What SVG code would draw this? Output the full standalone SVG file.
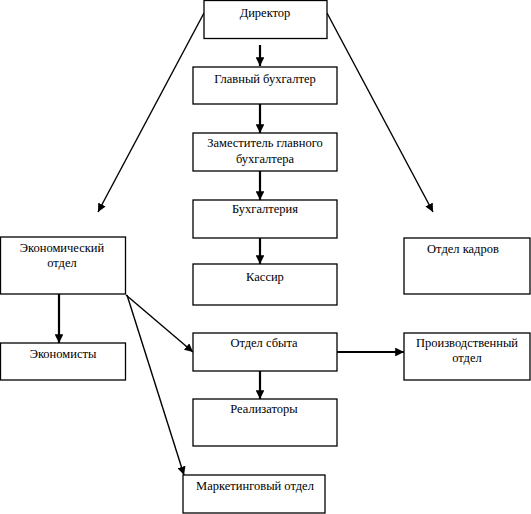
<svg xmlns="http://www.w3.org/2000/svg" width="531" height="514" viewBox="0 0 531 514">
<defs>
<marker id="a" viewBox="0 0 10 10" refX="10" refY="5" markerWidth="4" markerHeight="4" orient="auto" markerUnits="strokeWidth"><path d="M0,0L10,5L0,10z" fill="#000"/></marker>
<marker id="b" viewBox="0 0 10 10" refX="10" refY="5" markerWidth="6" markerHeight="6" orient="auto" markerUnits="strokeWidth"><path d="M0,0L10,5L0,10z" fill="#000"/></marker>
</defs>
<rect width="531" height="514" fill="#fff"/>
<g id="connectors" stroke="#000" fill="none">
<g stroke-width="1.4" marker-end="url(#b)">
<line x1="204" y1="13" x2="98" y2="212"/>
<line x1="327" y1="13" x2="433" y2="212"/>
<line x1="126" y1="295" x2="193" y2="352"/>
<line x1="127" y1="295" x2="184" y2="475"/>
</g>
<g stroke-width="2.2" marker-end="url(#a)">
<line x1="260" y1="45" x2="260" y2="66"/>
<line x1="260" y1="104" x2="260" y2="133"/>
<line x1="260" y1="171" x2="260" y2="200"/>
<line x1="260" y1="238" x2="260" y2="264"/>
<line x1="260" y1="371" x2="260" y2="399"/>
<line x1="59" y1="294" x2="59" y2="343"/>
<line x1="337" y1="352" x2="404" y2="352"/>
</g>
</g>
<g fill="#fff" stroke="#000" stroke-width="1.3">
<rect id="director-box" x="204" y="0.5" width="123" height="38"/>
<rect x="193" y="67" width="144" height="37"/>
<rect x="193" y="133" width="144" height="38"/>
<rect x="193" y="200" width="144" height="38"/>
<rect x="193" y="264" width="144" height="41"/>
<rect x="193" y="333" width="144" height="38"/>
<rect x="193" y="399" width="144" height="47"/>
<rect x="183" y="475" width="142" height="38"/>
<rect x="0.5" y="237" width="125" height="57"/>
<rect x="0.5" y="343" width="125" height="37"/>
<rect x="404" y="238" width="126" height="56"/>
<rect x="404" y="333" width="126" height="47"/>
</g>
<g id="director"><text font-family="Liberation Serif" font-size="12.5" text-anchor="middle" x="265" y="17">Директор</text></g>
<g id="chief-accountant"><text font-family="Liberation Serif" font-size="12.5" text-anchor="middle" x="265" y="83">Главный бухгалтер</text></g>
<g id="deputy"><text font-family="Liberation Serif" font-size="12.5" text-anchor="middle" x="265" y="147">Заместитель главного</text><text font-family="Liberation Serif" font-size="12.5" text-anchor="middle" x="265" y="163">бухгалтера</text></g>
<g id="accounting"><text font-family="Liberation Serif" font-size="12.5" text-anchor="middle" x="265" y="213">Бухгалтерия</text></g>
<g id="cashier"><text font-family="Liberation Serif" font-size="12.5" text-anchor="middle" x="265" y="281">Кассир</text></g>
<g id="sales"><text font-family="Liberation Serif" font-size="12.5" text-anchor="middle" x="264" y="347">Отдел сбыта</text></g>
<g id="sellers"><text font-family="Liberation Serif" font-size="12.5" text-anchor="middle" x="264" y="413">Реализаторы</text></g>
<g id="marketing"><text font-family="Liberation Serif" font-size="12.5" text-anchor="middle" x="255" y="490">Маркетинговый отдел</text></g>
<g id="economic"><text font-family="Liberation Serif" font-size="12.5" text-anchor="middle" x="62" y="252">Экономический</text><text font-family="Liberation Serif" font-size="12.5" text-anchor="middle" x="62" y="267">отдел</text></g>
<g id="economists"><text font-family="Liberation Serif" font-size="12.5" text-anchor="middle" x="63" y="358">Экономисты</text></g>
<g id="hr"><text font-family="Liberation Serif" font-size="12.5" text-anchor="middle" x="463" y="253">Отдел кадров</text></g>
<g id="production"><text font-family="Liberation Serif" font-size="12.5" text-anchor="middle" x="467" y="347">Производственный</text><text font-family="Liberation Serif" font-size="12.5" text-anchor="middle" x="467" y="362">отдел</text></g>
</svg>
